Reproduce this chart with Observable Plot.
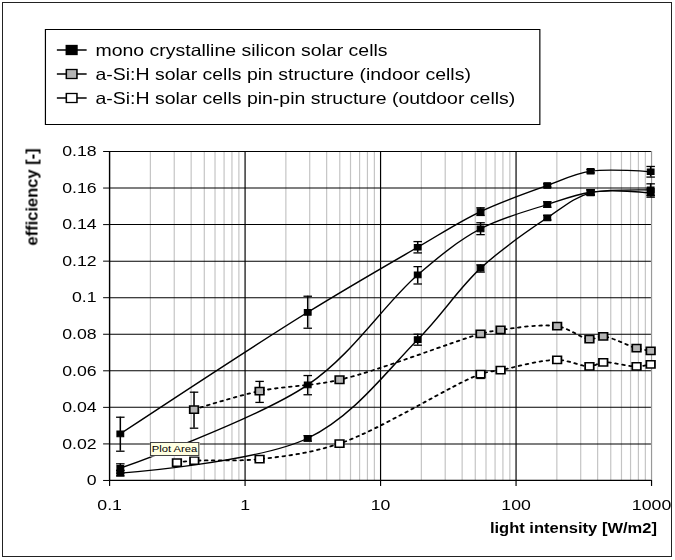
<!DOCTYPE html>
<html><head><meta charset="utf-8">
<script src="https://cdn.jsdelivr.net/npm/d3@7"></script>
<script src="https://cdn.jsdelivr.net/npm/@observablehq/plot@0.6"></script>
<style>
html,body{margin:0;padding:0;background:#fff;}
#frame{position:absolute;left:2px;top:2px;width:670px;height:555px;border:1px solid #222;box-sizing:border-box;}
#wrap{position:absolute;left:0;top:0;width:572px;height:560px;transform:scaleX(1.18);transform-origin:0 0;font-family:"Liberation Sans",Arial,sans-serif;color:#000;}
#wrap svg{position:absolute;left:0;top:0;}
.legend{position:absolute;background:#fff;border:1px solid #000;box-sizing:border-box;}
.row{position:absolute;left:0;height:20px;display:flex;align-items:center;font-size:16.5px;white-space:nowrap;}
.row svg{position:static !important;margin-right:7px;}
.title{position:absolute;font-weight:bold;font-size:14px;white-space:nowrap;font-family:"Liberation Sans",Arial,sans-serif;}
.tip{position:absolute;background:#ffffe1;border:1px solid #444;font-size:9.5px;line-height:12px;text-align:center;box-sizing:border-box;white-space:nowrap;font-family:"Liberation Sans",Arial,sans-serif;}
</style></head>
<body>
<div id="frame"></div>
<div id="wrap"></div>
<script>
// ---------- data ----------
const seriesNames = [
  "mono crystalline silicon solar cells",
  "a-Si:H solar cells pin structure (indoor cells)",
  "a-Si:H solar cells pin-pin structure (outdoor cells)"
];
// mono crystalline: three measured curves, same intensities
const monoX = [0.12, 2.9, 18.8, 54.7, 170, 355, 985];
const monoA   = [0.0255, 0.0920, 0.1276, 0.1471, 0.1614, 0.1692, 0.1689];
const monoALo = [0.0160, 0.0833, 0.1245, 0.1450, 0.1605, 0.1683, 0.1660];
const monoAHi = [0.0346, 0.1008, 0.1307, 0.1492, 0.1623, 0.1701, 0.1718];
const monoB   = [0.0067, 0.0523, 0.1125, 0.1377, 0.1510, 0.1577, 0.1590];
const monoBLo = [0.0040, 0.0469, 0.1075, 0.1345, 0.1495, 0.1565, 0.1560];
const monoBHi = [0.0091, 0.0574, 0.1170, 0.1410, 0.1525, 0.1590, 0.1623];
const monoC   = [0.0040, 0.0231, 0.0771, 0.1161, 0.1437, 0.1574, 0.1572];
const monoCLo = [0.0025, 0.0215, 0.0740, 0.1140, 0.1425, 0.1560, 0.1550];
const monoCHi = [0.0055, 0.0245, 0.0800, 0.1180, 0.1450, 0.1590, 0.1595];
// a-Si:H pin (indoor)
const pinX  = [0.42, 1.28, 4.98, 54.7, 76.9, 201, 348, 440, 775, 985];
const pinY  = [0.0388, 0.0489, 0.0551, 0.0802, 0.0824, 0.0844, 0.0773, 0.0788, 0.0724, 0.0709];
const pinLo = [0.0286, 0.0427, null, null, null, null, null, null, null, null];
const pinHi = [0.0483, 0.0542, null, null, null, null, null, null, null, null];
// a-Si:H pin-pin (outdoor)
const pinpinX  = [0.314, 0.422, 1.28, 4.98, 54.7, 76.9, 201, 348, 440, 775, 985];
const pinpinY  = [0.0098, 0.0108, 0.0117, 0.0202, 0.0582, 0.0604, 0.0660, 0.0624, 0.0646, 0.0624, 0.0635];
const pinpinLo = [null, null, null, null, 0.0558, null, null, null, null, null, null];
const pinpinHi = [null, null, null, null, 0.0600, null, null, null, null, null, null];
// axes
const xTicks = [0.1, 1, 10, 100, 1000];
const xTickLabels = ["0.1", "1", "10", "100", "1000"];
const yTicks = [0, 0.02, 0.04, 0.06, 0.08, 0.1, 0.12, 0.14, 0.16, 0.18];
const yTickLabels = ["0", "0.02", "0.04", "0.06", "0.08", "0.1", "0.12", "0.14", "0.16", "0.18"];
const xTitle = "light intensity [W/m2]";
const yTitle = "efficiency [-]";

// ---------- tables ----------
const SX = 1.18;
const W = 675 / SX;
const px = v => v / SX;

const mono = [];
[[monoA, monoALo, monoAHi], [monoB, monoBLo, monoBHi], [monoC, monoCLo, monoCHi]].forEach(([ys, lo, hi], k) => {
  monoX.forEach((x, i) => mono.push({curve: k, x, y: ys[i], lo: lo[i], hi: hi[i]}));
});
const pin = pinX.map((x, i) => ({x, y: pinY[i], lo: pinLo[i], hi: pinHi[i]}));
const pinpin = pinpinX.map((x, i) => ({x, y: pinpinY[i], lo: pinpinLo[i], hi: pinpinHi[i]}));
const errs = [...mono, ...pin, ...pinpin].filter(d => d.lo != null);

const logTicks = d3.scaleLog().domain([0.1, 1000]).ticks();
const minorX = logTicks.filter(t => !xTicks.some(m => Math.abs(m - t) / m < 1e-9));
const majorX = xTicks.slice(1, -1);

const hline = {draw(ctx, size) { const w = Math.sqrt(size / Math.PI); ctx.moveTo(-w, 0); ctx.lineTo(w, 0); }};

const chart = Plot.plot({
  width: W, height: 560,
  marginLeft: px(109), marginRight: px(675 - 651), marginTop: 151, marginBottom: 80,
  x: {type: "log", domain: [0.1, 1000]},
  y: {domain: [0, 0.18]},
  style: {fontFamily: "'Liberation Sans', Arial, sans-serif", fontSize: "15px", color: "#000", background: "transparent", overflow: "visible"},
  marks: [
    Plot.ruleX(minorX, {stroke: "#c4c4c4", strokeWidth: 1}),
    Plot.ruleY(yTicks.slice(1), {stroke: "#000", strokeWidth: 1}),
    Plot.ruleX(majorX, {stroke: "#000", strokeWidth: 1}),
    Plot.ruleX(xTicks.slice(-1), {stroke: "#999", strokeWidth: 1}),
    Plot.axisX({ticks: xTicks, tickFormat: d => xTickLabels[xTicks.indexOf(d)], tickSize: 6, tickPadding: 13, label: null}),
    Plot.axisY({ticks: yTicks, tickFormat: d => yTickLabels[yTicks.indexOf(d)], tickSize: 5, tickPadding: 6, label: null}),
    Plot.ruleX(xTicks.slice(0, 1), {stroke: "#000", strokeWidth: 1.2}),
    Plot.ruleY(yTicks.slice(0, 1), {stroke: "#000", strokeWidth: 1.2}),
    Plot.line(pin, {x: "x", y: "y", curve: "catmull-rom", stroke: "#000", strokeWidth: 1.8, strokeDasharray: "2,4"}),
    Plot.line(pinpin, {x: "x", y: "y", curve: "catmull-rom", stroke: "#000", strokeWidth: 1.8, strokeDasharray: "2,4"}),
    Plot.line(mono, {x: "x", y: "y", z: "curve", curve: "catmull-rom", stroke: "#000", strokeWidth: 1.3}),
    Plot.ruleX(errs, {x: "x", y1: "lo", y2: "hi", stroke: "#000", strokeWidth: 1.3}),
    Plot.dot(errs, {x: "x", y: "lo", symbol: hline, r: 3.6, stroke: "#000", strokeWidth: 1.3}),
    Plot.dot(errs, {x: "x", y: "hi", symbol: hline, r: 3.6, stroke: "#000", strokeWidth: 1.3}),
    Plot.dot(mono, {x: "x", y: "y", symbol: "square", r: 3.2, fill: "#000", stroke: "#000", strokeWidth: 1}),
    Plot.dot(pin, {x: "x", y: "y", symbol: "square", r: 4.1, fill: "#b4b4b4", stroke: "#000", strokeWidth: 1.5}),
    Plot.dot(pinpin, {x: "x", y: "y", symbol: "square", r: 4.1, fill: "#fff", stroke: "#000", strokeWidth: 1.5})
  ]
});
const wrap = document.getElementById("wrap");
wrap.appendChild(chart);

// ---------- legend ----------
const legend = document.createElement("div");
legend.className = "legend";
Object.assign(legend.style, {left: px(45) + "px", top: "29px", width: px(540 - 45) + "px", height: "96px"});
const fills = ["#000", "#b4b4b4", "#fff"];
seriesNames.forEach((name, i) => {
  const row = document.createElement("div");
  row.className = "row";
  row.style.left = px(56 - 45) + "px";
  row.style.top = (10 + i * 24) + "px";
  const ns = "http://www.w3.org/2000/svg";
  const s = document.createElementNS(ns, "svg");
  s.setAttribute("width", px(30)); s.setAttribute("height", 14);
  const l = document.createElementNS(ns, "line");
  l.setAttribute("x1", 0); l.setAttribute("x2", px(30)); l.setAttribute("y1", 7); l.setAttribute("y2", 7);
  l.setAttribute("stroke", "#000"); l.setAttribute("stroke-width", 1.5);
  const r = document.createElementNS(ns, "rect");
  r.setAttribute("x", px(15) - 4.5); r.setAttribute("y", 2.5); r.setAttribute("width", 9); r.setAttribute("height", 9);
  r.setAttribute("fill", fills[i]); r.setAttribute("stroke", "#000"); r.setAttribute("stroke-width", 1.3);
  s.appendChild(l); s.appendChild(r);
  row.appendChild(s);
  const t = document.createElement("span");
  t.textContent = name;
  row.appendChild(t);
  legend.appendChild(row);
});
wrap.appendChild(legend);

// ---------- axis titles ----------
const xt = document.createElement("div");
xt.className = "title"; xt.textContent = xTitle;
Object.assign(xt.style, {right: (W - px(657)) + "px", top: "520px"});
wrap.appendChild(xt);
document.body.appendChild(Object.assign(document.createElement("div"), {className: "title", textContent: yTitle}));
const yt = document.body.lastChild;
Object.assign(yt.style, {left: "32px", top: "197px", fontSize: "16.5px", transform: "translate(-50%,-50%) rotate(-90deg)"});

// ---------- Excel tooltip artifact ----------
const tip = document.createElement("div");
tip.className = "tip"; tip.textContent = "Plot Area";
Object.assign(tip.style, {left: px(150) + "px", top: "442px", width: px(49) + "px", height: "14px"});
wrap.appendChild(tip);
</script>
</body></html>
